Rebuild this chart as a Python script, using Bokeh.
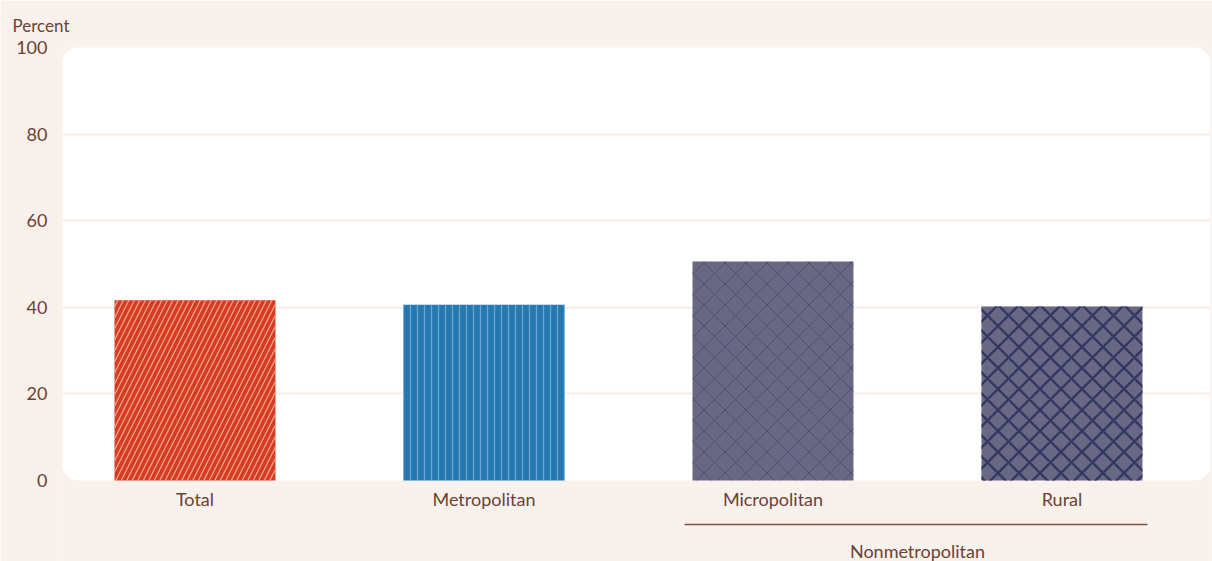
import numpy as np
from bokeh.plotting import figure
from bokeh.models import ColumnDataSource, FixedTicker, BoxAnnotation
from bokeh.core.properties import value
from bokeh.embed import file_html
from bokeh.resources import INLINE

# ---- data ----
categories = ["Total", "Metropolitan", "Micropolitan", "Rural"]
values = [41.6, 40.6, 50.6, 40.2]
fills = ["#d63b24", "#2679b0", "#686784", "#686784"]
hatch_patterns = ["/", "|", "x", "x"]
hatch_colors = ["#f2a98c", "#6aa3cf", "#3b3f68", "#333862"]
hatch_scales = [11, 7, 21, 21]
hatch_weights = [1.2, 1.3, 1.0, 2.4]
hatch_alphas = [1.0, 1.0, 0.6, 1.0]
y_ticks = [0, 20, 40, 60, 80, 100]
grid_ticks = [20, 40, 60, 80]
group_label = "Nonmetropolitan"
group_members = ["Micropolitan", "Rural"]
y_label = "Percent"

BG = "#f9f1ec"
TXT = "#6b4234"
FONT = "Lato"

xpos = np.arange(len(categories))
src = ColumnDataSource(dict(x=xpos, top=values, fill=fills, hp=hatch_patterns,
                            hc=hatch_colors, hs=hatch_scales, hw=hatch_weights,
                            ha=hatch_alphas))

p = figure(width=1212, height=561, output_backend="svg", toolbar_location=None,
           x_range=(-0.4585, 3.514), y_range=(-18.71, 100))
p.min_border_left = 62
p.min_border_right = 2
p.min_border_top = 47
p.min_border_bottom = 0
p.background_fill_color = BG
p.border_fill_color = BG
p.outline_line_color = None

# title = y-axis unit label
p.title.text = y_label
p.title.align = "left"
p.title.offset = -50
p.title.standoff = 24
p.title.text_font = FONT
p.title.text_font_size = "17px"
p.title.text_font_style = "normal"
p.title.text_color = TXT

# white rounded plotting panel over 0..100
p.add_layout(BoxAnnotation(bottom=0, top=100, fill_color="white", fill_alpha=1.0,
                           line_color=None, border_radius=16, level="image"))

p.vbar(x="x", top="top", width=0.557, bottom=0, source=src,
       fill_color="fill", line_color=None,
       hatch_pattern="hp", hatch_color="hc", hatch_scale="hs",
       hatch_weight="hw", hatch_alpha="ha")

# category labels under the bars
lab = ColumnDataSource(dict(x=xpos, y=[-4.39] * len(categories), t=categories))
p.text(x="x", y="y", text="t", source=lab, text_font=value(FONT),
       text_font_size="18px", text_color=TXT, text_align="center",
       text_baseline="middle")

# group bracket line + label
gi = [categories.index(m) for m in group_members]
p.segment(x0=[min(gi) - 0.306], x1=[max(gi) + 0.296], y0=[-10.16], y1=[-10.16],
          line_color="#7a5548", line_width=1.5)
p.text(x=[(min(gi) + max(gi)) / 2], y=[-16.17], text=[group_label],
       text_font=value(FONT), text_font_size="18px", text_color=TXT,
       text_align="center", text_baseline="middle")

# axes
p.xaxis.visible = False
p.yaxis.ticker = FixedTicker(ticks=y_ticks)
ax = p.yaxis[0]
ax.axis_line_color = None
ax.major_tick_line_color = None
ax.minor_tick_line_color = None
ax.major_tick_out = 0
ax.major_tick_in = 0
ax.major_label_text_font = FONT
ax.major_label_text_color = TXT
ax.major_label_text_font_size = "18px"
ax.major_label_standoff = 15

p.xgrid.grid_line_color = None
p.ygrid.ticker = FixedTicker(ticks=grid_ticks)
p.ygrid.grid_line_color = "#f7ede7"
p.ygrid.grid_line_width = 2

open("out.html", "w").write(file_html(p, INLINE))
